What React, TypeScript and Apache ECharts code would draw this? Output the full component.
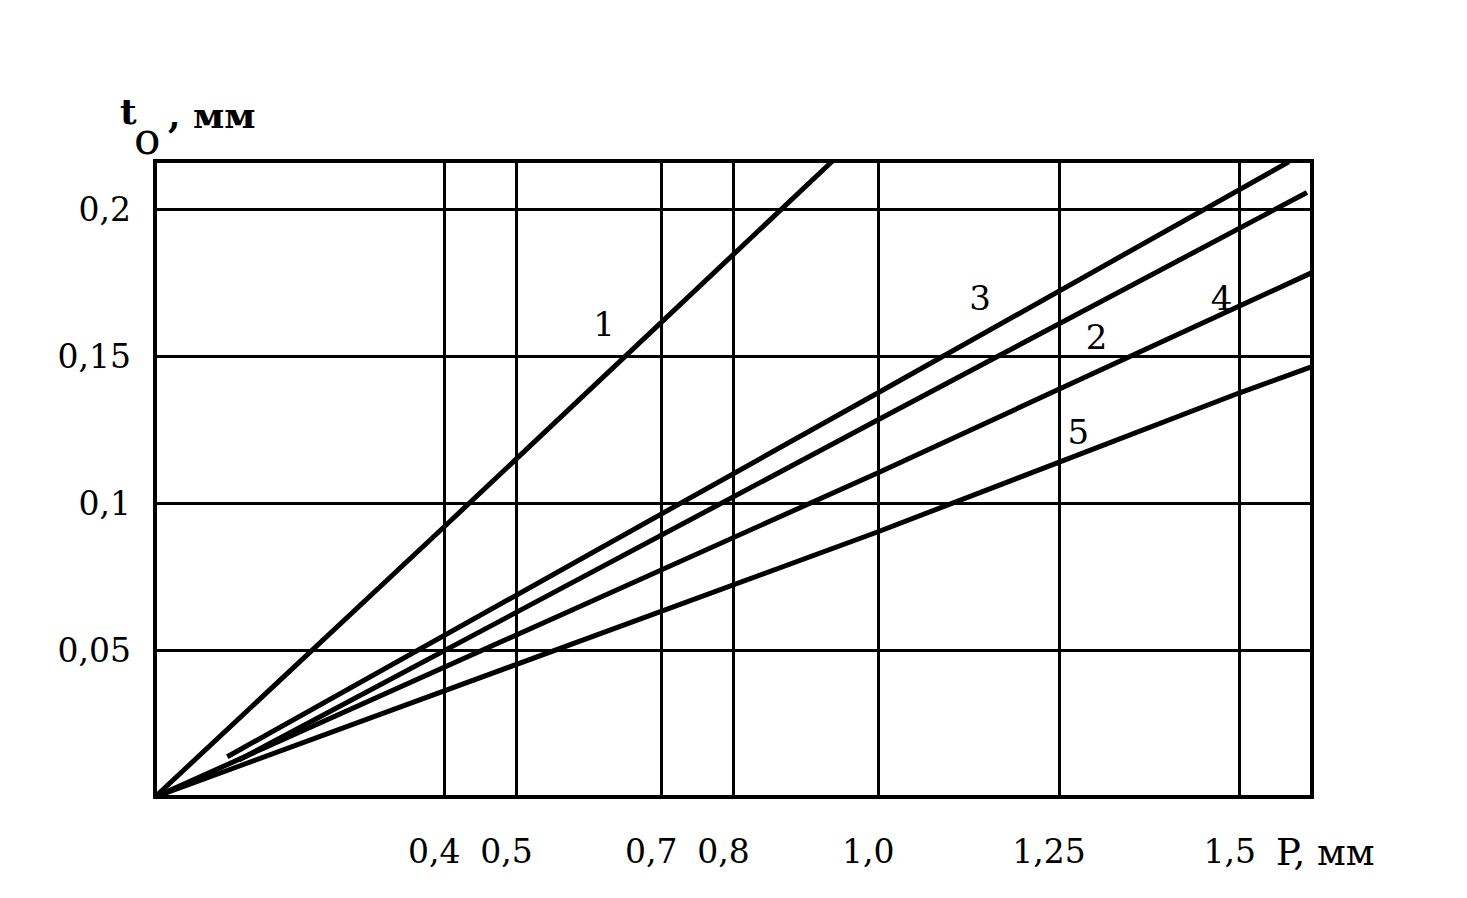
import React, { useEffect, useRef } from 'react';
import * as echarts from 'echarts';

// Axis ticks (P, мм on x; t_o, мм on y)
const xTickValues = [0.4, 0.5, 0.7, 0.8, 1.0, 1.25, 1.5];
const xTickLabels = ['0,4', '0,5', '0,7', '0,8', '1,0', '1,25', '1,5'];
const yTickValues = [0.05, 0.1, 0.15, 0.2];
const yTickLabels = ['0,05', '0,1', '0,15', '0,2'];

// Curves: [P, t_o]
const curve1 = [[0, 0], [0.4, 0.092], [0.937, 0.2165]];
const curve2 = [[0.116, 0.0126], [1.0, 0.1284], [1.593, 0.2058]];
const curve3 = [[0.1, 0.0137], [1.0, 0.1376], [1.568, 0.2162]];
const curve4 = [[0, 0], [1.0, 0.1104], [1.6, 0.1785]];
const curve5 = [[0, 0], [1.0, 0.0903], [1.5, 0.1376], [1.6, 0.1465]];
const curveNames = ['1', '2', '3', '4', '5'];
const curveLabelPos = [[0.621, 0.161], [1.302, 0.1567], [1.141, 0.17], [1.475, 0.17], [1.277, 0.1244]];

const FONT = 'DejaVu Serif';

function lookup(v: number, vals: number[], labels: string[]) {
  for (let i = 0; i < vals.length; i++) if (Math.abs(v - vals[i]) < 1e-6) return labels[i];
  return '';
}

export default function App() {
  const ref = useRef<HTMLDivElement>(null);
  useEffect(() => {
    if (!ref.current) return;
    const chart = echarts.init(ref.current, null, { renderer: 'svg' });
    const lineStyle = { color: '#000', width: 5 };
    const curves = [curve1, curve2, curve3, curve4, curve5];
    const series: any[] = curves.map((c, i) => ({
      type: 'line',
      name: curveNames[i],
      data: c,
      showSymbol: false,
      symbol: 'none',
      lineStyle,
      clip: true,
      z: 5,
      ...(i === 0
        ? {
            markLine: {
              symbol: ['none', 'none'],
              silent: true,
              label: { show: false },
              lineStyle: { color: '#000', width: 3, type: 'solid', opacity: 1 },
              data: xTickValues.map((v) => ({ xAxis: v })),
            },
          }
        : {}),
    }));
    series.push({
      type: 'scatter',
      data: curveLabelPos.map((p, i) => ({ value: p, name: curveNames[i] })),
      symbolSize: 0,
      z: 6,
      label: {
        show: true,
        position: 'inside',
        formatter: '{b}',
        fontSize: 34,
        fontFamily: FONT,
        color: '#000',
        textBorderWidth: 0,
        opacity: 1,
      },
    });
    chart.setOption({
      animation: false,
      backgroundColor: '#fff',
      grid: {
        left: 155,
        right: 155,
        top: 161,
        bottom: 101,
        show: true,
        borderColor: '#000',
        borderWidth: 4,
      },
      xAxis: {
        type: 'value',
        min: 0,
        max: 1.6,
        axisLine: { show: true, lineStyle: { color: '#000', width: 4 } },
        axisTick: { show: false },
        splitLine: { show: false },
        axisLabel: {
          customValues: xTickValues,
          formatter: (v: number) => lookup(v, xTickValues, xTickLabels),
          margin: 38,
          fontSize: 33,
          fontFamily: FONT,
          color: '#000',
          padding: [0, 20, 0, 0],
        },
      },
      yAxis: {
        type: 'value',
        min: 0,
        max: 0.2165,
        interval: 0.05,
        axisLine: { show: true, lineStyle: { color: '#000', width: 4 } },
        axisTick: { show: false },
        splitLine: { show: true, lineStyle: { color: '#000', width: 3 } },
        axisLabel: {
          formatter: (v: number) => lookup(v, yTickValues, yTickLabels),
          margin: 24,
          fontSize: 33,
          fontFamily: FONT,
          color: '#000',
        },
      },
      graphic: [
        { type: 'text', x: 120, y: 111, style: { text: 't', fontSize: 36, fontWeight: 'bold', fontFamily: FONT, fill: '#000', verticalAlign: 'middle' } },
        { type: 'text', x: 134, y: 138, style: { text: 'o', fontSize: 44, fontFamily: FONT, fill: '#000', verticalAlign: 'middle' } },
        { type: 'text', x: 168, y: 115, style: { text: ', мм', fontSize: 36, fontWeight: 'bold', fontFamily: FONT, fill: '#000', verticalAlign: 'middle' } },
        { type: 'text', x: 1276, y: 852, style: { text: 'P, мм', fontSize: 37, fontFamily: FONT, fill: '#000', verticalAlign: 'middle' } },
      ],
      series,
    });
    return () => chart.dispose();
  }, []);
  return (
    <div
      ref={ref}
      style={{ position: 'fixed', left: 0, top: 0, width: 1467, height: 898, background: '#fff' }}
    />
  );
}
